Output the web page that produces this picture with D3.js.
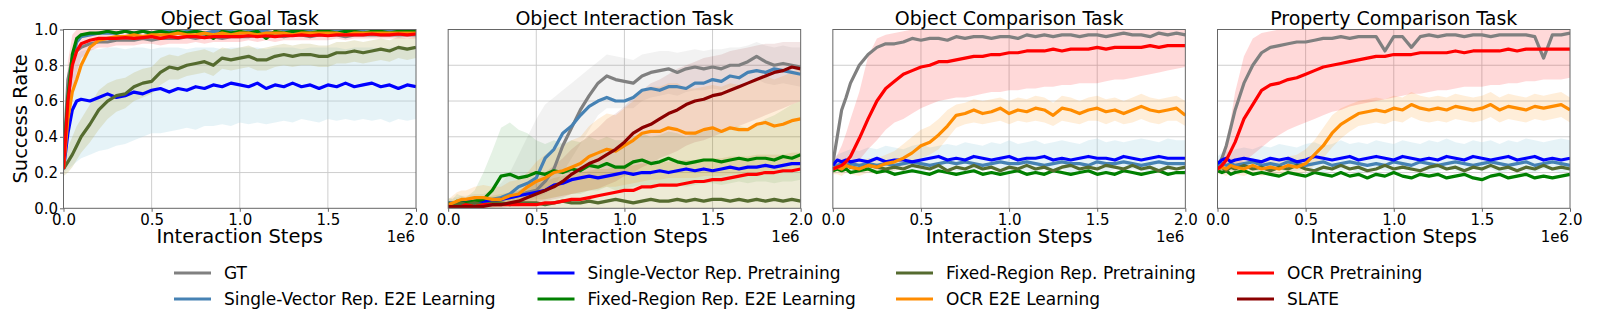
<!DOCTYPE html>
<html>
<head>
<meta charset="utf-8">
<script src="https://cdn.jsdelivr.net/npm/d3@7"></script>
<style>
  body { margin: 0; background: #fff; }
  text { font-family: "DejaVu Sans", sans-serif; fill: #000; }
</style>
</head>
<body>
<svg id="chart" width="1600" height="325"></svg>
<script>
// x positions, in units of 1e6 interaction steps
var steps = [0, 0.025, 0.05, 0.075, 0.1, 0.15, 0.2, 0.25, 0.3, 0.35, 0.4, 0.45, 0.5, 0.55, 0.6, 0.65, 0.7, 0.75, 0.8, 0.85,
  0.9, 0.95, 1.0, 1.05, 1.1, 1.15, 1.2, 1.25, 1.3, 1.35, 1.4, 1.45, 1.5, 1.55, 1.6, 1.65, 1.7, 1.75, 1.8, 1.85, 1.9, 1.95, 2.0];

var seriesNames = ["GT", "Single-Vector Rep. E2E Learning", "Single-Vector Rep. Pretraining", "Fixed-Region Rep. E2E Learning",
  "Fixed-Region Rep. Pretraining", "OCR E2E Learning", "OCR Pretraining", "SLATE"];
var panelTitles = ["Object Goal Task", "Object Interaction Task", "Object Comparison Task", "Property Comparison Task"];
var xTicks = [0, 0.5, 1.0, 1.5, 2.0];
var yTicks = [0, 0.2, 0.4, 0.6, 0.8, 1.0];

// ---- Object Goal Task
var goal_gt = [0.25,0.72,0.84,0.88,0.9, 0.92,0.93,0.93,0.94,0.94, 0.94,0.95,0.94,0.95,0.95, 0.95,0.96,0.95,0.96,0.96, 0.95,0.96,0.96,0.96,0.97, 0.96,0.97,0.96,0.97,0.97, 0.96,0.97,0.97,0.97,0.96, 0.97,0.97,0.97,0.97,0.97, 0.97,0.97,0.97];
var goal_svE2E = [0.24,0.6,0.82,0.93,0.96, 0.97,0.98,0.98,0.98,0.99, 0.98,0.99,0.98,0.99,0.99, 0.98,0.99,0.99,0.98,0.99, 0.99,0.99,0.98,0.99,0.99, 0.99,0.98,0.99,0.99,0.99, 0.99,0.98,0.99,0.99,0.99, 0.99,0.99,0.98,0.99,0.99, 0.99,0.99,0.99];
var goal_svPre = [0.22,0.42,0.55,0.6,0.61, 0.6,0.62,0.64,0.62,0.63, 0.65,0.64,0.66,0.67,0.65, 0.67,0.66,0.68,0.67,0.69, 0.68,0.7,0.69,0.68,0.7, 0.67,0.69,0.68,0.7,0.68, 0.69,0.67,0.69,0.68,0.7, 0.68,0.69,0.7,0.68,0.69, 0.67,0.69,0.68];
var goal_frE2E = [0.25,0.62,0.86,0.95,0.97, 0.98,0.98,0.99,0.98,0.99, 0.98,0.99,0.98,0.99,0.98, 0.99,0.98,0.99,0.98,0.95, 0.99,0.98,0.99,0.98,0.99, 0.95,0.99,0.98,0.99,0.99, 0.98,0.99,0.99,0.98,0.99, 0.99,0.98,0.99,0.99,0.98, 0.99,0.99,0.99];
var goal_frPre = [0.22,0.26,0.3,0.35,0.4, 0.47,0.55,0.6,0.63,0.64, 0.68,0.7,0.71,0.76,0.79, 0.78,0.8,0.81,0.82,0.8, 0.84,0.83,0.84,0.85,0.83, 0.83,0.85,0.86,0.85,0.86, 0.86,0.85,0.85,0.87,0.87, 0.88,0.87,0.88,0.89,0.88, 0.9,0.89,0.9];
var goal_ocrE2E = [0.22,0.5,0.65,0.72,0.8, 0.9,0.94,0.95,0.96,0.96, 0.97,0.96,0.97,0.97,0.97, 0.98,0.97,0.97,0.98,0.97, 0.98,0.97,0.98,0.98,0.97, 0.98,0.98,0.98,0.97,0.98, 0.98,0.98,0.98,0.98,0.97, 0.98,0.98,0.98,0.98,0.98, 0.98,0.98,0.98];
var goal_ocrPre = [0.22,0.6,0.8,0.88,0.92, 0.94,0.95,0.95,0.95,0.955, 0.95,0.955,0.96,0.95,0.96, 0.955,0.96,0.96,0.955,0.96, 0.96,0.96,0.96,0.965,0.96, 0.965,0.96,0.965,0.965,0.97, 0.965,0.97,0.965,0.97,0.97, 0.97,0.97,0.975,0.97,0.97, 0.975,0.97,0.975];
var goal_svPre_lo = [0.2,0.22,0.24,0.26,0.28, 0.3,0.32,0.33,0.35,0.36, 0.38,0.4,0.42,0.42,0.43, 0.44,0.45,0.44,0.46,0.46, 0.47,0.46,0.48,0.47,0.48, 0.47,0.48,0.49,0.48,0.5, 0.49,0.48,0.5,0.49,0.5, 0.49,0.5,0.49,0.5,0.48, 0.5,0.49,0.5];
var goal_svPre_hi = [0.24,0.6,0.8,0.86,0.88, 0.89,0.89,0.9,0.9,0.89, 0.9,0.9,0.89,0.9,0.9, 0.9,0.89,0.9,0.9,0.9, 0.89,0.9,0.9,0.9,0.9, 0.89,0.9,0.9,0.9,0.89, 0.9,0.9,0.9,0.9,0.89, 0.9,0.9,0.9,0.89,0.9, 0.9,0.9,0.9];
var goal_frPre_lo = [0.18,0.2,0.23,0.27,0.31, 0.37,0.44,0.5,0.54,0.56, 0.6,0.62,0.64,0.69,0.72, 0.72,0.74,0.75,0.76,0.74, 0.78,0.77,0.78,0.79,0.77, 0.77,0.79,0.8,0.79,0.8, 0.8,0.79,0.79,0.81,0.81, 0.82,0.81,0.82,0.83,0.82, 0.84,0.83,0.84];
var goal_frPre_hi = [0.26,0.34,0.4,0.46,0.5, 0.58,0.66,0.7,0.72,0.73, 0.76,0.78,0.79,0.84,0.86, 0.85,0.87,0.88,0.89,0.87, 0.9,0.89,0.9,0.91,0.89, 0.9,0.91,0.92,0.91,0.92, 0.92,0.91,0.91,0.93,0.93, 0.94,0.93,0.94,0.95,0.94, 0.96,0.95,0.96];
var goal_ocrPre_lo = [0.16,0.42,0.64,0.76,0.84, 0.88,0.9,0.9,0.91,0.91, 0.91,0.92,0.92,0.91,0.92, 0.92,0.92,0.93,0.92,0.93, 0.93,0.93,0.93,0.94,0.93, 0.94,0.93,0.94,0.94,0.94, 0.94,0.94,0.94,0.95,0.94, 0.95,0.95,0.95,0.95,0.95, 0.95,0.95,0.95];
var goal_ocrPre_hi = [0.3,0.82,0.97,1,1, 1,1,1,1,1, 1,1,1,1,1, 1,1,1,1,1, 1,1,1,1,1, 1,1,1,1,1, 1,1,1,1,1, 1,1,1,1,1, 1,1,1];

// ---- Object Interaction Task
var inter_gt = [0.03,0.03,0.03,0.04,0.03, 0.04,0.03,0.04,0.05,0.06, 0.07,0.09,0.1,0.15,0.22, 0.35,0.45,0.55,0.63,0.7, 0.74,0.72,0.71,0.7,0.74, 0.76,0.77,0.78,0.76,0.78, 0.79,0.78,0.79,0.78,0.8, 0.8,0.82,0.85,0.82,0.8, 0.81,0.8,0.79];
var inter_svE2E = [0.03,0.03,0.03,0.03,0.04, 0.03,0.04,0.05,0.06,0.08, 0.12,0.14,0.17,0.28,0.33, 0.42,0.46,0.52,0.57,0.6, 0.62,0.6,0.6,0.62,0.66, 0.67,0.66,0.68,0.68,0.67, 0.7,0.7,0.72,0.71,0.74, 0.73,0.76,0.77,0.76,0.78, 0.77,0.76,0.75];
var inter_svPre = [0.02,0.02,0.03,0.03,0.04, 0.03,0.04,0.04,0.05,0.06, 0.07,0.08,0.09,0.1,0.13, 0.14,0.16,0.17,0.18,0.17, 0.18,0.19,0.2,0.19,0.2, 0.2,0.21,0.2,0.21,0.22, 0.21,0.22,0.21,0.22,0.23, 0.22,0.23,0.23,0.24,0.23, 0.24,0.25,0.25];
var inter_frE2E = [0.03,0.02,0.04,0.03,0.03, 0.04,0.05,0.1,0.18,0.19, 0.17,0.18,0.2,0.19,0.21, 0.2,0.22,0.21,0.24,0.23, 0.25,0.23,0.23,0.26,0.27, 0.25,0.26,0.28,0.26,0.25, 0.26,0.27,0.27,0.26,0.27, 0.28,0.27,0.28,0.28,0.27, 0.29,0.28,0.3];
var inter_frPre = [0.02,0.02,0.02,0.03,0.02, 0.03,0.02,0.03,0.03,0.02, 0.03,0.03,0.03,0.02,0.03, 0.04,0.03,0.03,0.04,0.03, 0.04,0.05,0.04,0.03,0.04, 0.05,0.04,0.04,0.05,0.04, 0.05,0.04,0.05,0.05,0.04, 0.05,0.04,0.05,0.04,0.05, 0.04,0.05,0.04];
var inter_ocrE2E = [0.02,0.03,0.04,0.05,0.05, 0.06,0.06,0.05,0.05,0.07, 0.08,0.12,0.15,0.17,0.2, 0.21,0.23,0.25,0.29,0.31, 0.33,0.32,0.35,0.38,0.42, 0.43,0.43,0.45,0.44,0.42, 0.42,0.44,0.45,0.43,0.45, 0.44,0.44,0.47,0.48,0.46, 0.47,0.49,0.5];
var inter_ocrPre = [0.01,0.01,0.01,0.01,0.02, 0.01,0.02,0.02,0.02,0.02, 0.02,0.02,0.02,0.03,0.03, 0.04,0.05,0.05,0.06,0.07, 0.08,0.09,0.1,0.1,0.12, 0.12,0.13,0.13,0.13,0.14, 0.15,0.15,0.16,0.16,0.17, 0.18,0.19,0.19,0.2,0.2, 0.21,0.21,0.22];
var inter_slate = [0.01,0.01,0.01,0.01,0.01, 0.01,0.01,0.02,0.02,0.03, 0.04,0.06,0.08,0.1,0.12, 0.15,0.19,0.22,0.25,0.27, 0.3,0.33,0.37,0.42,0.45, 0.47,0.5,0.53,0.55,0.58, 0.6,0.61,0.63,0.64,0.66, 0.68,0.7,0.72,0.74,0.76, 0.77,0.79,0.78];
var inter_gt_lo = [0.02,0.02,0.02,0.02,0.02, 0.02,0.02,0.02,0.03,0.03, 0.04,0.05,0.06,0.08,0.12, 0.2,0.28,0.36,0.44,0.52, 0.56,0.56,0.56,0.56,0.6, 0.62,0.63,0.64,0.63,0.65, 0.66,0.66,0.67,0.66,0.68, 0.68,0.7,0.72,0.7,0.69, 0.7,0.69,0.68];
var inter_gt_hi = [0.05,0.06,0.06,0.07,0.07, 0.08,0.08,0.1,0.14,0.2, 0.3,0.4,0.5,0.58,0.62, 0.66,0.7,0.74,0.78,0.82, 0.86,0.85,0.84,0.83,0.86, 0.87,0.88,0.88,0.87,0.88, 0.89,0.88,0.89,0.89,0.9, 0.9,0.91,0.93,0.91,0.9, 0.91,0.9,0.9];
var inter_frE2E_lo = [0,0,0,0,0, 0,0,0,0.02,0.03, 0.03,0.04,0.05,0.05,0.06, 0.07,0.08,0.08,0.1,0.1, 0.12,0.1,0.11,0.12,0.13, 0.12,0.13,0.14,0.13,0.12, 0.13,0.14,0.14,0.13,0.14, 0.15,0.14,0.15,0.15,0.14, 0.15,0.15,0.16];
var inter_frE2E_hi = [0.06,0.05,0.08,0.07,0.06, 0.1,0.2,0.32,0.45,0.48, 0.44,0.42,0.38,0.36,0.38, 0.36,0.38,0.37,0.4,0.38, 0.4,0.38,0.38,0.4,0.42, 0.4,0.41,0.43,0.42,0.4, 0.42,0.43,0.44,0.42,0.45, 0.46,0.45,0.47,0.5,0.52, 0.55,0.58,0.6];
var inter_frPre_lo = [0,0,0,0,0, 0,0,0,0,0, 0,0,0,0,0, 0,0,0,0,0, 0,0,0,0,0, 0,0,0,0,0, 0,0,0,0,0, 0,0,0,0,0, 0,0,0];
var inter_frPre_hi = [0.03,0.03,0.04,0.04,0.05, 0.05,0.06,0.07,0.08,0.09, 0.1,0.12,0.14,0.15,0.17, 0.18,0.19,0.2,0.21,0.22, 0.22,0.23,0.24,0.24,0.25, 0.25,0.26,0.26,0.27,0.27, 0.27,0.28,0.28,0.28,0.29, 0.29,0.29,0.3,0.3,0.3, 0.3,0.31,0.31];
var inter_ocrE2E_lo = [0,0,0,0.01,0.01, 0.02,0.02,0.01,0.01,0.02, 0.02,0.03,0.04,0.05,0.06, 0.07,0.08,0.09,0.1,0.11, 0.12,0.12,0.13,0.14,0.15, 0.16,0.16,0.17,0.17,0.17, 0.17,0.18,0.18,0.18,0.19, 0.19,0.2,0.2,0.21,0.21, 0.22,0.22,0.23];
var inter_ocrE2E_hi = [0.05,0.07,0.09,0.1,0.1, 0.12,0.13,0.12,0.12,0.15, 0.16,0.2,0.26,0.3,0.33, 0.35,0.38,0.4,0.46,0.5, 0.53,0.52,0.56,0.6,0.66, 0.68,0.68,0.7,0.7,0.67, 0.67,0.68,0.69,0.68,0.7, 0.69,0.69,0.72,0.74,0.72, 0.74,0.76,0.78];
var inter_slate_lo = [0,0,0,0,0, 0,0,0,0,0.01, 0.01,0.02,0.03,0.04,0.05, 0.06,0.08,0.09,0.1,0.11, 0.13,0.15,0.18,0.2,0.23, 0.25,0.28,0.3,0.32,0.35, 0.37,0.38,0.4,0.42,0.44, 0.46,0.48,0.5,0.52,0.54, 0.56,0.58,0.6];
var inter_slate_hi = [0.02,0.02,0.02,0.03,0.03, 0.03,0.04,0.05,0.06,0.08, 0.1,0.13,0.16,0.2,0.24, 0.28,0.33,0.37,0.41,0.45, 0.5,0.53,0.57,0.62,0.66, 0.7,0.72,0.75,0.78,0.8, 0.82,0.84,0.85,0.86,0.88, 0.89,0.9,0.91,0.92,0.92, 0.93,0.93,0.93];

// ---- Object Comparison Task
var obj_gt = [0.25,0.4,0.55,0.62,0.7, 0.8,0.86,0.9,0.92,0.92, 0.93,0.95,0.94,0.95,0.95, 0.94,0.96,0.95,0.96,0.96, 0.95,0.96,0.96,0.95,0.97, 0.96,0.97,0.96,0.97,0.97, 0.96,0.97,0.97,0.96,0.97, 0.98,0.97,0.97,0.96,0.98, 0.97,0.98,0.97];
var obj_svE2E = [0.22,0.24,0.25,0.24,0.25, 0.24,0.25,0.24,0.25,0.24, 0.25,0.26,0.25,0.24,0.25, 0.26,0.25,0.26,0.25,0.24, 0.25,0.26,0.25,0.25,0.26, 0.25,0.24,0.25,0.26,0.25, 0.25,0.24,0.26,0.25,0.25, 0.26,0.25,0.24,0.25,0.26, 0.25,0.25,0.25];
var obj_svPre = [0.24,0.27,0.26,0.27,0.26, 0.27,0.26,0.28,0.26,0.27, 0.27,0.26,0.27,0.28,0.29, 0.27,0.28,0.27,0.29,0.28, 0.27,0.28,0.29,0.27,0.28, 0.28,0.29,0.27,0.28,0.27, 0.28,0.29,0.28,0.28,0.27, 0.29,0.28,0.27,0.28,0.29, 0.28,0.28,0.28];
var obj_frE2E = [0.21,0.22,0.21,0.22,0.2, 0.21,0.22,0.2,0.21,0.19, 0.2,0.21,0.2,0.19,0.21, 0.2,0.19,0.2,0.21,0.19, 0.2,0.19,0.2,0.21,0.19, 0.2,0.19,0.21,0.2,0.19, 0.2,0.21,0.19,0.2,0.19, 0.21,0.2,0.19,0.2,0.21, 0.19,0.2,0.2];
var obj_frPre = [0.22,0.23,0.22,0.24,0.23, 0.22,0.24,0.23,0.22,0.23, 0.22,0.24,0.23,0.22,0.24, 0.21,0.23,0.22,0.24,0.22, 0.23,0.21,0.23,0.22,0.24, 0.22,0.23,0.21,0.23,0.24, 0.22,0.23,0.22,0.24,0.23, 0.22,0.24,0.22,0.23,0.21, 0.23,0.22,0.23];
var obj_ocrE2E = [0.22,0.23,0.22,0.24,0.23, 0.22,0.24,0.23,0.25,0.26, 0.28,0.31,0.35,0.37,0.41, 0.46,0.52,0.53,0.55,0.53, 0.54,0.56,0.53,0.55,0.54, 0.56,0.55,0.52,0.56,0.55, 0.53,0.55,0.56,0.54,0.55, 0.53,0.55,0.57,0.55,0.54, 0.55,0.56,0.52];
var obj_ocrPre = [0.22,0.23,0.24,0.26,0.29, 0.39,0.5,0.6,0.67,0.71, 0.75,0.77,0.79,0.8,0.82, 0.82,0.83,0.84,0.85,0.85, 0.86,0.86,0.87,0.87,0.88, 0.88,0.88,0.89,0.88,0.89, 0.89,0.89,0.9,0.89,0.9, 0.9,0.9,0.9,0.91,0.9, 0.91,0.91,0.91];
var obj_svPre_lo = [0.2,0.21,0.2,0.22,0.21, 0.2,0.22,0.21,0.2,0.21, 0.22,0.21,0.2,0.22,0.21, 0.22,0.21,0.2,0.22,0.21, 0.22,0.2,0.21,0.22,0.21, 0.2,0.22,0.21,0.22,0.2, 0.21,0.22,0.21,0.2,0.22, 0.21,0.22,0.21,0.2,0.22, 0.21,0.22,0.21];
var obj_svPre_hi = [0.28,0.3,0.31,0.32,0.33, 0.32,0.34,0.33,0.35,0.34, 0.33,0.35,0.36,0.34,0.35, 0.36,0.35,0.37,0.36,0.35, 0.37,0.36,0.38,0.36,0.37, 0.38,0.36,0.37,0.38,0.37, 0.36,0.38,0.39,0.37,0.38, 0.37,0.38,0.39,0.38,0.37, 0.39,0.38,0.38];
var obj_ocrE2E_lo = [0.19,0.19,0.18,0.2,0.19, 0.18,0.2,0.19,0.2,0.21, 0.22,0.25,0.28,0.3,0.33, 0.39,0.45,0.47,0.48,0.47, 0.48,0.49,0.47,0.49,0.48, 0.49,0.48,0.46,0.49,0.48, 0.47,0.49,0.49,0.47,0.49, 0.47,0.48,0.5,0.48,0.47, 0.49,0.49,0.46];
var obj_ocrE2E_hi = [0.25,0.27,0.26,0.28,0.27, 0.26,0.28,0.28,0.3,0.32, 0.36,0.4,0.44,0.46,0.5, 0.55,0.58,0.59,0.61,0.6, 0.61,0.62,0.6,0.62,0.61, 0.63,0.62,0.59,0.63,0.62, 0.6,0.62,0.63,0.61,0.62, 0.6,0.62,0.64,0.62,0.61, 0.62,0.63,0.6];
var obj_ocrPre_lo = [0.2,0.21,0.21,0.22,0.23, 0.27,0.33,0.38,0.44,0.48, 0.5,0.53,0.56,0.58,0.6, 0.61,0.62,0.62,0.63,0.64, 0.65,0.65,0.66,0.66,0.67, 0.67,0.68,0.68,0.69,0.69, 0.7,0.7,0.7,0.71,0.72, 0.72,0.73,0.74,0.75,0.76, 0.77,0.78,0.79];
var obj_ocrPre_hi = [0.25,0.3,0.35,0.42,0.5, 0.65,0.85,0.95,0.97,0.98, 0.99,1,1,1,1, 1,1,1,1,1, 1,1,1,1,1, 1,1,1,1,1, 1,1,1,1,1, 1,1,1,1,1, 1,1,1];

// ---- Property Comparison Task
var prop_gt = [0.24,0.28,0.35,0.45,0.55, 0.7,0.8,0.87,0.9,0.91, 0.92,0.93,0.93,0.94,0.95, 0.95,0.96,0.95,0.96,0.96, 0.96,0.88,0.96,0.96,0.9, 0.96,0.97,0.96,0.97,0.97, 0.96,0.97,0.97,0.96,0.97, 0.97,0.97,0.97,0.96,0.84, 0.97,0.97,0.98];
var prop_svE2E = [0.23,0.25,0.24,0.25,0.24, 0.25,0.26,0.24,0.25,0.24, 0.26,0.25,0.24,0.25,0.26, 0.24,0.25,0.26,0.25,0.24, 0.25,0.24,0.26,0.25,0.24, 0.26,0.25,0.24,0.25,0.26, 0.25,0.24,0.25,0.26,0.25, 0.24,0.25,0.26,0.24,0.25, 0.26,0.25,0.24];
var prop_svPre = [0.25,0.27,0.28,0.26,0.27, 0.28,0.27,0.26,0.28,0.27, 0.28,0.26,0.27,0.29,0.28, 0.27,0.28,0.29,0.27,0.28, 0.29,0.28,0.27,0.29,0.28, 0.27,0.28,0.27,0.29,0.28, 0.27,0.29,0.28,0.27,0.28, 0.29,0.27,0.28,0.29,0.27, 0.28,0.27,0.28];
var prop_frE2E = [0.21,0.2,0.21,0.19,0.2, 0.21,0.19,0.2,0.19,0.18, 0.2,0.19,0.18,0.2,0.19, 0.18,0.2,0.18,0.19,0.17, 0.19,0.18,0.2,0.18,0.17, 0.19,0.18,0.19,0.17,0.18, 0.19,0.17,0.16,0.18,0.19, 0.17,0.18,0.19,0.17,0.18, 0.17,0.18,0.19];
var prop_frPre = [0.22,0.23,0.21,0.23,0.22, 0.24,0.22,0.23,0.21,0.23, 0.22,0.24,0.22,0.21,0.23, 0.22,0.24,0.22,0.23,0.21, 0.22,0.24,0.22,0.23,0.22, 0.21,0.23,0.24,0.22,0.23, 0.21,0.23,0.22,0.24,0.22, 0.23,0.21,0.23,0.22,0.24, 0.22,0.23,0.22];
var prop_ocrE2E = [0.22,0.23,0.22,0.24,0.23, 0.22,0.24,0.22,0.23,0.22, 0.24,0.23,0.25,0.3,0.35, 0.42,0.47,0.5,0.53,0.54, 0.55,0.54,0.56,0.55,0.58, 0.56,0.55,0.56,0.55,0.57, 0.56,0.55,0.56,0.58,0.55, 0.57,0.56,0.55,0.57,0.56, 0.57,0.58,0.55];
var prop_ocrPre = [0.22,0.24,0.27,0.32,0.37, 0.5,0.58,0.66,0.69,0.7, 0.72,0.73,0.75,0.77,0.79, 0.8,0.81,0.82,0.83,0.84, 0.85,0.85,0.86,0.86,0.86, 0.87,0.87,0.87,0.87,0.88, 0.87,0.88,0.88,0.88,0.88, 0.89,0.88,0.89,0.89,0.89, 0.89,0.89,0.89];
var prop_svPre_lo = [0.21,0.2,0.22,0.21,0.2, 0.22,0.21,0.2,0.21,0.22, 0.2,0.21,0.22,0.21,0.2, 0.22,0.21,0.22,0.2,0.21, 0.22,0.21,0.2,0.22,0.21, 0.22,0.2,0.21,0.22,0.21, 0.2,0.22,0.21,0.22,0.2, 0.21,0.22,0.21,0.2,0.22, 0.21,0.2,0.21];
var prop_svPre_hi = [0.29,0.31,0.32,0.31,0.33, 0.34,0.33,0.35,0.34,0.36, 0.35,0.34,0.36,0.37,0.35, 0.36,0.38,0.36,0.37,0.36, 0.38,0.37,0.36,0.38,0.37, 0.36,0.38,0.37,0.39,0.37, 0.36,0.38,0.37,0.38,0.36, 0.38,0.37,0.39,0.38,0.37, 0.38,0.39,0.38];
var prop_ocrE2E_lo = [0.19,0.19,0.18,0.2,0.19, 0.18,0.2,0.18,0.19,0.18, 0.2,0.19,0.2,0.24,0.28, 0.34,0.39,0.43,0.46,0.47, 0.48,0.47,0.49,0.48,0.51, 0.49,0.48,0.49,0.48,0.5, 0.49,0.48,0.49,0.51,0.48, 0.5,0.49,0.48,0.5,0.49, 0.5,0.51,0.48];
var prop_ocrE2E_hi = [0.25,0.27,0.26,0.28,0.27, 0.26,0.28,0.26,0.27,0.27, 0.29,0.3,0.33,0.38,0.45, 0.52,0.56,0.58,0.6,0.61, 0.62,0.61,0.63,0.62,0.65, 0.63,0.62,0.63,0.62,0.64, 0.63,0.62,0.63,0.65,0.62, 0.64,0.63,0.62,0.64,0.63, 0.64,0.65,0.62];
var prop_ocrPre_lo = [0.2,0.21,0.22,0.23,0.24, 0.26,0.3,0.34,0.38,0.41, 0.44,0.46,0.48,0.5,0.52, 0.54,0.55,0.57,0.58,0.59, 0.6,0.61,0.62,0.63,0.64, 0.64,0.65,0.66,0.66,0.67, 0.68,0.68,0.68,0.69,0.69, 0.7,0.7,0.71,0.71,0.72, 0.72,0.72,0.73];
var prop_ocrPre_hi = [0.25,0.3,0.38,0.5,0.65, 0.85,0.95,0.98,0.99,1, 1,1,1,1,1, 1,1,1,1,1, 1,1,1,1,1, 1,1,1,1,1, 1,1,1,1,1, 1,1,1,1,1, 1,1,1];

// styles
var lineColors = ["#808080", "#4682b4", "#0000ff", "#008000", "#556b2f", "#ff8c00", "#ff0000", "#8b0000"];
var bandFill = { gt: ["#808080", 0.1], svPre: ["#add8e6", 0.3], frE2E: ["#008000", 0.1], frPre: ["#bdb76b", 0.28],
  ocrE2E: ["#ff8c00", 0.15], ocrPre: ["#ff0000", 0.15], slate: ["#8b0000", 0.1] };

var panels = [
  { lines: [goal_gt, goal_svE2E, goal_svPre, goal_frE2E, goal_frPre, goal_ocrE2E, goal_ocrPre, null],
    bands: [["svPre", goal_svPre_lo, goal_svPre_hi], ["frPre", goal_frPre_lo, goal_frPre_hi], ["ocrPre", goal_ocrPre_lo, goal_ocrPre_hi]] },
  { lines: [inter_gt, inter_svE2E, inter_svPre, inter_frE2E, inter_frPre, inter_ocrE2E, inter_ocrPre, inter_slate],
    bands: [["gt", inter_gt_lo, inter_gt_hi], ["frE2E", inter_frE2E_lo, inter_frE2E_hi], ["frPre", inter_frPre_lo, inter_frPre_hi],
      ["ocrE2E", inter_ocrE2E_lo, inter_ocrE2E_hi], ["slate", inter_slate_lo, inter_slate_hi]] },
  { lines: [obj_gt, obj_svE2E, obj_svPre, obj_frE2E, obj_frPre, obj_ocrE2E, obj_ocrPre, null],
    bands: [["svPre", obj_svPre_lo, obj_svPre_hi], ["ocrE2E", obj_ocrE2E_lo, obj_ocrE2E_hi], ["ocrPre", obj_ocrPre_lo, obj_ocrPre_hi]] },
  { lines: [prop_gt, prop_svE2E, prop_svPre, prop_frE2E, prop_frPre, prop_ocrE2E, prop_ocrPre, null],
    bands: [["svPre", prop_svPre_lo, prop_svPre_hi], ["ocrE2E", prop_ocrE2E_lo, prop_ocrE2E_hi], ["ocrPre", prop_ocrPre_lo, prop_ocrPre_hi]] }
];

var svg = d3.select("#chart");
var left0 = 63.5, panelStep = 384.67, pw = 352.5, plotTop = 29.5, ph = 178.8;
var frameColor = "#666";

panels.forEach(function (p, i) {
  var left = left0 + i * panelStep;
  var g = svg.append("g").attr("transform", "translate(" + left + "," + plotTop + ")");
  var x = d3.scaleLinear().domain([0, 2]).range([0, pw]);
  var y = d3.scaleLinear().domain([0, 1]).range([ph, 0]);

  svg.append("clipPath").attr("id", "clip" + i)
    .append("rect").attr("width", pw).attr("height", ph);

  // grid
  g.selectAll(".gx").data(xTicks.slice(1, -1)).enter().append("line")
    .attr("x1", function (d) { return x(d); }).attr("x2", function (d) { return x(d); })
    .attr("y1", 0).attr("y2", ph)
    .style("stroke", "#c8c8c8").style("stroke-width", 0.9);
  g.selectAll(".gy").data(yTicks.slice(1, -1)).enter().append("line")
    .attr("y1", function (d) { return y(d); }).attr("y2", function (d) { return y(d); })
    .attr("x1", 0).attr("x2", pw)
    .style("stroke", "#c8c8c8").style("stroke-width", 0.9);

  var plot = g.append("g").attr("clip-path", "url(#clip" + i + ")");

  p.bands.forEach(function (b) {
    var lo = b[1], hi = b[2];
    var area = d3.area()
      .x(function (d, j) { return x(steps[j]); })
      .y0(function (d, j) { return y(lo[j]); })
      .y1(function (d, j) { return y(hi[j]); });
    plot.append("path").datum(steps).attr("d", area)
      .style("fill", bandFill[b[0]][0]).style("fill-opacity", bandFill[b[0]][1]).style("stroke", "none");
  });

  var line = d3.line()
    .x(function (d, j) { return x(steps[j]); })
    .y(function (d) { return y(d); });
  p.lines.forEach(function (vals, k) {
    if (!vals) return;
    plot.append("path").datum(vals).attr("d", line)
      .style("fill", "none").style("stroke", lineColors[k])
      .style("stroke-width", 3.2).style("stroke-linejoin", "round");
  });

  g.append("rect").attr("width", pw).attr("height", ph)
    .style("fill", "none").style("stroke", frameColor).style("stroke-width", 1);

  var xAxis = g.append("g").attr("transform", "translate(0," + ph + ")")
    .call(d3.axisBottom(x).tickValues(xTicks).tickFormat(d3.format(".1f")).tickSize(3.5).tickPadding(3));
  xAxis.select(".domain").remove();
  xAxis.selectAll("line").style("stroke", frameColor);
  xAxis.selectAll("text").style("font-size", "15px").style("font-family", "DejaVu Sans").attr("fill", "#000");

  if (i === 0) {
    var yAxis = g.append("g")
      .call(d3.axisLeft(y).tickValues(yTicks).tickFormat(d3.format(".1f")).tickSize(3.5).tickPadding(2));
    yAxis.select(".domain").remove();
    yAxis.selectAll("line").style("stroke", frameColor);
    yAxis.selectAll("text").style("font-size", "15px").style("font-family", "DejaVu Sans").attr("fill", "#000");
  }

  g.append("text").attr("x", pw / 2).attr("y", -5).attr("text-anchor", "middle")
    .style("font-size", "19px").text(panelTitles[i]);
  g.append("text").attr("x", pw / 2).attr("y", 243 - plotTop).attr("text-anchor", "middle")
    .style("font-size", "19.5px").text("Interaction Steps");
  g.append("text").attr("x", pw - 1).attr("y", 242 - plotTop).attr("text-anchor", "end")
    .style("font-size", "15px").text("1e6");
});

svg.append("text").attr("transform", "translate(27," + (plotTop + ph / 2) + ") rotate(-90)")
  .attr("text-anchor", "middle").style("font-size", "19.5px").text("Success Rate");

// legend, filled column by column (2 rows)
var legX = [174, 537.5, 896, 1237], legY = [273, 299];
seriesNames.forEach(function (name, k) {
  var col = Math.floor(k / 2), row = k % 2;
  var lg = svg.append("g").attr("transform", "translate(" + legX[col] + "," + legY[row] + ")");
  lg.append("line").attr("x1", 0).attr("x2", 37).attr("y1", 0).attr("y2", 0)
    .style("stroke", lineColors[k]).style("stroke-width", 3);
  lg.append("text").attr("x", 50).attr("y", 6).style("font-size", "17px").text(name);
});
</script>
</body>
</html>
